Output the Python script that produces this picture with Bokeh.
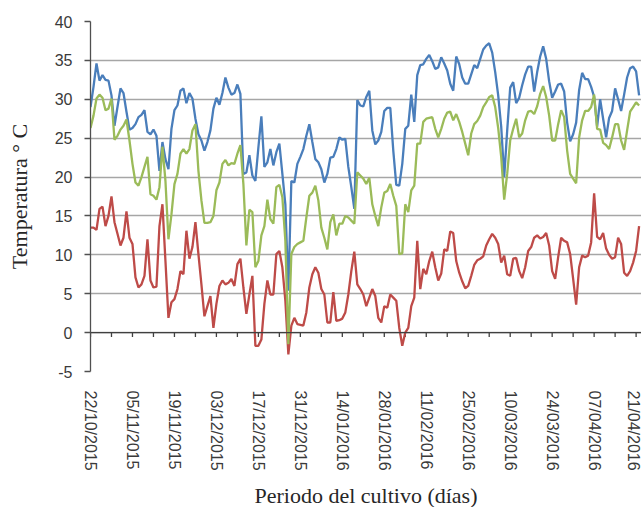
import pandas as pd
from bokeh.plotting import figure
from bokeh.models import Range1d, FixedTicker, DatetimeTickFormatter, Span, Title, ColumnDataSource
from bokeh.embed import file_html
from bokeh.resources import INLINE

start_date = "22/10/2015"

tmax = [29.0, 31.6, 34.6, 32.4, 33.1, 32.5, 32.4, 30.5, 26.6, 29.0,
        31.4, 30.8, 28.4, 26.1, 26.3, 26.8, 27.7, 28.0, 28.6, 25.8,
        25.5, 26.1, 25.3, 20.8, 24.5, 22.3, 21.0, 26.2, 28.6, 29.2,
        31.1, 31.4, 29.5, 30.8, 30.1, 27.5, 25.5, 24.7, 23.4, 24.5,
        26.0, 28.8, 30.2, 29.3, 30.8, 32.8, 31.5, 30.6, 30.8, 31.9,
        30.7, 20.4, 20.6, 22.8, 20.2, 19.5, 23.8, 27.8, 21.3, 21.9,
        23.6, 21.5, 23.2, 24.3, 20.4, 16.5, 5.4, 19.5, 19.3, 21.7,
        22.6, 23.6, 25.3, 26.8, 24.5, 22.3, 21.9, 21.0, 19.3, 20.4,
        22.5, 22.6, 23.6, 25.1, 24.8, 24.9, 21.3, 18.7, 15.9, 29.9,
        29.2, 29.1, 30.3, 31.1, 26.0, 24.2, 24.7, 25.8, 28.5, 28.9,
        28.9, 23.4, 19.0, 18.9, 21.7, 26.2, 26.6, 30.6, 27.1, 33.1,
        34.4, 34.5, 35.2, 35.7, 34.9, 33.9, 34.1, 35.4, 34.6, 33.7,
        32.0, 31.1, 35.5, 34.5, 32.8, 32.0, 32.0, 33.2, 34.4, 34.0,
        35.2, 36.4, 36.9, 37.2, 36.0, 33.5, 30.5, 26.5, 20.0, 26.0,
        31.5, 32.2, 29.5, 30.2, 31.8, 33.2, 34.2, 34.2, 31.0, 33.5,
        35.5, 36.8, 35.2, 32.3, 30.2, 31.0, 31.9, 32.0, 31.0, 27.0,
        24.6, 25.5, 27.0, 31.2, 33.4, 32.6, 32.6, 31.6, 30.3, 26.5,
        30.0, 27.5, 25.1, 27.6, 28.5, 31.4, 30.0, 28.5, 30.6, 32.8,
        34.0, 34.2, 33.6, 30.5]

tmean = [26.3, 27.9, 30.1, 30.6, 30.2, 28.6, 28.8, 30.1, 24.8, 25.3,
         26.1, 26.6, 27.4, 24.7, 21.7, 19.3, 18.9, 20.0, 21.3, 22.6,
         17.8, 17.6, 17.1, 18.7, 23.9, 19.5, 12.0, 15.2, 19.1, 20.4,
         23.0, 23.6, 23.0, 23.6, 26.0, 26.8, 20.8, 17.0, 14.1, 14.1,
         14.2, 15.0, 18.3, 19.3, 21.7, 22.2, 21.5, 21.8, 21.7, 23.0,
         24.1, 19.1, 11.2, 15.8, 15.5, 8.4, 9.2, 12.5, 13.7, 17.1,
         14.6, 14.0, 18.7, 19.0, 17.4, 11.8, -1.5, 10.1, 11.0, 11.4,
         11.6, 11.8, 14.8, 17.6, 18.0, 18.9, 17.0, 13.5, 12.2, 10.7,
         14.2, 15.2, 12.5, 14.0, 14.0, 15.0, 14.8, 14.4, 14.0, 20.6,
         20.2, 19.8, 19.1, 19.9, 16.5, 15.0, 13.7, 16.1, 18.0, 18.2,
         19.1, 17.6, 16.3, 10.1, 10.2, 16.5, 15.5, 18.3, 18.9, 24.3,
         24.3, 27.1, 27.5, 27.6, 27.7, 26.2, 25.1, 26.2, 27.5, 28.3,
         28.4, 27.3, 28.1, 27.1, 25.8, 24.3, 22.8, 25.6, 26.8, 27.2,
         27.9, 29.0, 29.6, 30.3, 30.5, 29.0, 26.3, 22.6, 17.1, 20.4,
         24.7, 26.2, 27.5, 25.1, 25.6, 27.3, 28.4, 28.5, 28.1, 29.1,
         30.7, 31.7, 30.3, 27.9, 24.7, 24.7, 26.8, 28.6, 27.7, 23.4,
         20.4, 19.8, 19.2, 25.1, 27.3, 28.5, 28.5, 29.0, 30.6, 26.2,
         26.1, 24.4, 24.1, 23.6, 25.1, 26.8, 26.8, 24.7, 23.5, 26.0,
         28.4, 29.0, 29.6, 29.2]

tmin = [13.5, 13.5, 13.2, 15.9, 16.2, 13.7, 15.0, 17.5, 14.2, 12.7,
        11.2, 12.2, 15.6, 12.2, 11.4, 7.1, 5.8, 6.2, 7.3, 12.0,
        6.7, 5.8, 5.9, 13.7, 16.5, 9.2, 1.9, 3.9, 4.3, 5.6,
        7.9, 7.5, 13.1, 9.5, 11.0, 14.2, 10.1, 6.2, 2.1, 3.4,
        4.7, 0.6, 3.7, 6.0, 6.7, 6.2, 6.4, 6.9, 6.0, 8.8,
        9.5, 5.8, 2.4, 4.9, 7.3, -1.7, -1.7, -0.9, 3.7, 6.7,
        4.9, 4.9, 10.1, 10.5, 8.4, 4.1, -2.8, 0.9, 1.9, 1.1,
        1.0, 0.9, 2.6, 5.8, 7.5, 8.4, 7.7, 5.6, 4.9, 1.3,
        1.3, 5.2, 1.5, 1.6, 1.8, 2.6, 4.9, 7.9, 10.4, 6.2,
        5.6, 4.9, 3.4, 4.5, 5.6, 4.7, 1.9, 1.3, 3.4, 3.2,
        4.9, 4.5, 4.1, 0.6, -1.7, 0.0, 0.6, 3.4, 4.5, 11.8,
        5.6, 8.2, 7.5, 9.2, 10.4, 8.4, 6.7, 7.6, 10.7, 10.5,
        13.0, 12.8, 9.2, 7.7, 6.6, 5.7, 6.0, 7.3, 8.7, 9.3,
        9.5, 9.8, 11.2, 12.0, 12.7, 12.2, 11.4, 9.0, 9.9, 7.5,
        7.3, 9.5, 9.6, 7.9, 7.0, 8.4, 10.5, 11.0, 12.2, 12.5,
        12.1, 12.3, 12.8, 11.2, 7.9, 6.9, 9.7, 12.2, 11.8, 11.6,
        10.1, 6.9, 3.6, 8.4, 9.9, 9.7, 9.9, 11.6, 17.9, 12.3,
        12.0, 12.8, 10.8, 10.0, 9.5, 9.7, 12.2, 11.4, 7.7, 7.3,
        7.9, 9.0, 10.5, 13.7]

tick_labels = ["22/10/2015", "05/11/2015", "19/11/2015", "03/12/2015",
               "17/12/2015", "31/12/2015", "14/01/2016", "28/01/2016",
               "11/02/2016", "25/02/2016", "10/03/2016", "24/03/2016",
               "07/04/2016", "21/04/2016"]

y_ticks = [-5, 0, 5, 10, 15, 20, 25, 30, 35, 40]

y_title = "Temperatura ° C"
x_title = "Periodo del cultivo (días)"

# ---------------------------------------------------------------
start = pd.to_datetime(start_date, dayfirst=True)
dates = pd.date_range(start, periods=len(tmax), freq="D")
src = ColumnDataSource(dict(date=dates, tmax=tmax, tmean=tmean, tmin=tmin))

tick_dates = pd.to_datetime(tick_labels, dayfirst=True)
epoch = pd.Timestamp("1970-01-01")
tick_ms = [float((d - epoch) / pd.Timedelta(milliseconds=1)) for d in tick_dates]

x_end = start + pd.Timedelta(days=183.8)

p = figure(frame_width=551, frame_height=350,
           x_axis_type="datetime",
           x_range=Range1d(start.to_pydatetime(), x_end.to_pydatetime()),
           y_range=Range1d(-5, 40),
           output_backend="svg", toolbar_location=None,
           min_border_left=90, min_border_right=0,
           min_border_top=21, min_border_bottom=136)

p.background_fill_color = "white"
p.border_fill_color = "white"
p.outline_line_color = None

# grid
p.xgrid.visible = False
p.ygrid.ticker = FixedTicker(ticks=y_ticks)
p.ygrid.grid_line_color = "#a6a6a6"
p.ygrid.grid_line_width = 1.3

# zero axis with weekly ticks
p.add_layout(Span(location=0, dimension="width", line_color="#404040", line_width=1.3))
weekly = pd.date_range(start, x_end, freq="7D")
p.segment(x0=weekly, y0=0, x1=weekly, y1=-0.55, line_color="#404040", line_width=1.3)

# series
p.line("date", "tmax", source=src, line_color="#4a7ebb", line_width=2.3)
p.line("date", "tmin", source=src, line_color="#be4b48", line_width=2.3)
p.line("date", "tmean", source=src, line_color="#9bbb59", line_width=2.3)

# x axis (labels only)
xa = p.xaxis[0]
xa.ticker = FixedTicker(ticks=tick_ms, minor_ticks=[])
fmt = "%d/%m/%Y"
xa.formatter = DatetimeTickFormatter(milliseconds=fmt, seconds=fmt, minsec=fmt, minutes=fmt,
                                     hourmin=fmt, hours=fmt, days=fmt, months=fmt, years=fmt,
                                     strip_leading_zeros=False)
xa.major_label_orientation = "vertical"
xa.axis_line_color = None
xa.major_tick_line_color = None
xa.minor_tick_line_color = None
xa.major_label_standoff = 13
xa.major_label_text_font = "Liberation Sans"
xa.major_label_text_font_size = "16px"
xa.major_label_text_color = "#3a3a3a"

# y axis
ya = p.yaxis[0]
ya.ticker = FixedTicker(ticks=y_ticks, minor_ticks=[])
ya.major_label_overrides = {v: str(v) for v in y_ticks}
ya.axis_line_color = "#505050"
ya.axis_line_width = 1.3
ya.major_tick_line_color = "#505050"
ya.major_tick_line_width = 1.3
ya.major_tick_out = 6
ya.major_tick_in = 0
ya.minor_tick_line_color = None
ya.major_label_standoff = 12
ya.major_label_text_font = "Liberation Sans"
ya.major_label_text_font_size = "16px"
ya.major_label_text_color = "#3a3a3a"
ya.axis_label = y_title
ya.axis_label_text_font = "Liberation Serif"
ya.axis_label_text_font_size = "22px"
ya.axis_label_text_font_style = "normal"
ya.axis_label_text_color = "#262626"
ya.axis_label_standoff = 20

t = Title(text=x_title, align="center", offset=-11, standoff=14,
          text_font="Liberation Serif", text_font_size="22px",
          text_font_style="normal", text_color="#262626")
p.add_layout(t, "below")

open("out.html", "w").write(file_html(p, INLINE))
